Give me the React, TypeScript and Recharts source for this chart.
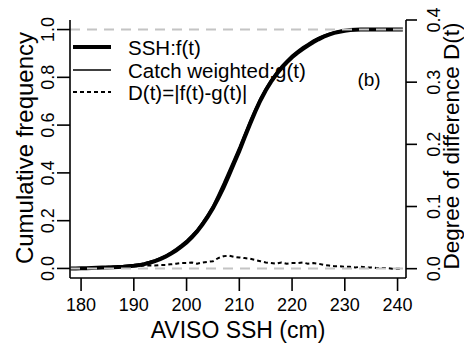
import React from "react";
import { LineChart, Line, XAxis, YAxis, ReferenceLine } from "recharts";

// AVISO SSH (cm)
const sshCm = [
  178, 179, 180, 181, 182, 183, 184, 185, 186, 187, 188, 189, 190, 191, 192, 193,
  194, 195, 196, 197, 198, 199, 200, 201, 202, 203, 204, 205, 206, 207, 208, 209,
  210, 211, 212, 213, 214, 215, 216, 217, 218, 219, 220, 221, 222, 223, 224, 225,
  226, 227, 228, 229, 230, 231, 232, 233, 234, 235, 236, 237, 238, 239, 240, 241,
];
// SSH: f(t)
const fValues = [
  0, 0, 0.001, 0.001, 0.002, 0.003, 0.004, 0.004, 0.005, 0.006, 0.007, 0.009, 0.011, 0.014, 0.018, 0.024,
  0.031, 0.039, 0.049, 0.061, 0.075, 0.091, 0.109, 0.13, 0.155, 0.184, 0.216, 0.252, 0.293, 0.338, 0.388, 0.44,
  0.492, 0.548, 0.603, 0.655, 0.703, 0.745, 0.781, 0.812, 0.839, 0.863, 0.884, 0.902, 0.918, 0.933, 0.947, 0.959,
  0.97, 0.979, 0.986, 0.991, 0.995, 0.998, 0.999, 1, 1, 1, 1, 1, 1, 1, 1, 1,
];
// Catch weighted: g(t)
const gValues = [
  0, 0, 0.002, 0.002, 0.004, 0.005, 0.006, 0.007, 0.008, 0.009, 0.011, 0.013, 0.015, 0.018, 0.023, 0.029,
  0.036, 0.045, 0.055, 0.068, 0.083, 0.1, 0.118, 0.14, 0.163, 0.194, 0.227, 0.264, 0.31, 0.358, 0.409, 0.459,
  0.51, 0.565, 0.619, 0.669, 0.715, 0.755, 0.79, 0.82, 0.849, 0.871, 0.893, 0.911, 0.928, 0.941, 0.956, 0.967,
  0.976, 0.984, 0.99, 0.995, 0.998, 1, 1, 1, 1, 1, 1, 1, 1, 1, 1, 1,
];
// D(t) = |f(t) - g(t)|
const dValues = [
  0, 0, 0.001, 0.001, 0.002, 0.002, 0.002, 0.003, 0.003, 0.003, 0.004, 0.004, 0.004, 0.004, 0.005, 0.005,
  0.005, 0.006, 0.006, 0.007, 0.008, 0.009, 0.009, 0.01, 0.008, 0.01, 0.011, 0.012, 0.017, 0.02, 0.021, 0.019,
  0.018, 0.017, 0.016, 0.014, 0.012, 0.01, 0.009, 0.008, 0.01, 0.008, 0.009, 0.009, 0.01, 0.008, 0.009, 0.008,
  0.006, 0.005, 0.004, 0.004, 0.003, 0.003, 0.002, 0.003, 0.002, 0.002, 0.001, 0.001, 0.001, 0, 0, 0,
];

const xTicks = [180, 190, 200, 210, 220, 230, 240];
const leftTicks = [0, 0.2, 0.4, 0.6, 0.8, 1.0];
const rightTicks = [0, 0.1, 0.2, 0.3, 0.4];
const legendLabels = ["SSH:f(t)", "Catch weighted:g(t)", "D(t)=|f(t)-g(t)|"];
const panelLabel = "(b)";
const xTitle = "AVISO SSH (cm)";
const leftTitle = "Cumulative frequency";
const rightTitle = "Degree of difference D(t)";

const data = sshCm.map((x, i) => ({ x, f: fValues[i], g: gValues[i], d: dValues[i] }));

const FONT = "'Liberation Sans', Arial, Helvetica, sans-serif";
const TICK_FS = 18;

const BottomTick = (props: any) => {
  const { x, y, payload } = props;
  return (
    <text x={x} y={y} dy="0.72em" textAnchor="middle" fontSize={TICK_FS} fontFamily={FONT} fill="#000">
      {payload.value}
    </text>
  );
};

const LeftTick = (props: any) => {
  const { x, y, payload } = props;
  return (
    <text x={x} y={y} transform={`rotate(-90, ${x}, ${y})`} textAnchor="middle" fontSize={TICK_FS} fontFamily={FONT} fill="#000">
      {Number(payload.value).toFixed(1)}
    </text>
  );
};

const RightTick = (props: any) => {
  const { x, y, payload } = props;
  return (
    <text x={x} y={y} dy={20} transform={`rotate(-90, ${x}, ${y})`} textAnchor="middle" fontSize={TICK_FS} fontFamily={FONT} fill="#000">
      {Number(payload.value).toFixed(1)}
    </text>
  );
};

const X_DOMAIN: [number, number] = [177.9, 241.6];

export default function App() {
  return (
    <div style={{ position: "absolute", left: 0, top: 0, width: 464, height: 345, background: "#fff" }}>
      <LineChart width={464} height={345} data={data} margin={{ top: 20, right: 0, bottom: 0, left: 0 }}>
        <XAxis
          dataKey="x"
          type="number"
          domain={X_DOMAIN}
          allowDataOverflow
          ticks={xTicks}
          height={67}
          tickSize={13}
          tickMargin={7}
          tick={<BottomTick />}
          tickLine={{ stroke: "#000", strokeWidth: 1.6 }}
          axisLine={{ stroke: "#000", strokeWidth: 1.6 }}
        />
        <XAxis
          xAxisId="top"
          orientation="top"
          type="number"
          domain={X_DOMAIN}
          allowDataOverflow
          height={0}
          tick={false}
          tickLine={false}
          axisLine={{ stroke: "#000", strokeWidth: 1.6 }}
        />
        <YAxis
          yAxisId="left"
          type="number"
          domain={[-0.04, 1.04]}
          allowDataOverflow
          ticks={leftTicks}
          width={70}
          tickSize={13}
          tickMargin={3}
          tick={<LeftTick />}
          tickLine={{ stroke: "#000", strokeWidth: 1.6 }}
          axisLine={{ stroke: "#000", strokeWidth: 1.6 }}
        />
        <YAxis
          yAxisId="right"
          orientation="right"
          type="number"
          domain={[-0.015, 0.4]}
          allowDataOverflow
          ticks={rightTicks}
          width={58}
          tickSize={11}
          tickMargin={3}
          tick={<RightTick />}
          tickLine={{ stroke: "#000", strokeWidth: 1.6 }}
          axisLine={{ stroke: "#000", strokeWidth: 1.6 }}
        />
        <Line yAxisId="left" dataKey="f" type="linear" stroke="#000" strokeWidth={4} dot={false} isAnimationActive={false} />
        <Line yAxisId="left" dataKey="g" type="linear" stroke="#000" strokeWidth={1.5} dot={false} isAnimationActive={false} />
        <Line yAxisId="right" dataKey="d" type="linear" stroke="#000" strokeWidth={2} strokeDasharray="4 3" dot={false} isAnimationActive={false} />
        <ReferenceLine yAxisId="left" y={0} stroke="#c4c4c4" strokeWidth={2} strokeDasharray="10 7" />
        <ReferenceLine yAxisId="left" y={1} stroke="#c4c4c4" strokeWidth={2} strokeDasharray="10 7" />
      </LineChart>
      <svg
        width={464}
        height={345}
        style={{ position: "absolute", left: 0, top: 0, pointerEvents: "none" }}
        fontFamily={FONT}
      >
        <line x1={73} x2={111} y1={47} y2={47} stroke="#000" strokeWidth={4} />
        <line x1={73} x2={111} y1={70} y2={70} stroke="#000" strokeWidth={1.5} />
        <line x1={73} x2={111} y1={92} y2={92} stroke="#000" strokeWidth={2} strokeDasharray="4 3" />
        <text x={128} y={55} fontSize={20.5} fill="#000">{legendLabels[0]}</text>
        <text x={128} y={77.5} fontSize={20.5} fill="#000">{legendLabels[1]}</text>
        <text x={128} y={99.5} fontSize={20.5} fill="#000">{legendLabels[2]}</text>
        <text x={369} y={86} fontSize={19} textAnchor="middle" fill="#000">{panelLabel}</text>
        <text x={238} y={338} fontSize={23} textAnchor="middle" fill="#000">{xTitle}</text>
        <text x={33} y={148} fontSize={24} textAnchor="middle" transform="rotate(-90, 33, 148)" fill="#000">{leftTitle}</text>
        <text x={459} y={146} fontSize={22.5} textAnchor="middle" transform="rotate(-90, 459, 146)" fill="#000">{rightTitle}</text>
      </svg>
    </div>
  );
}
